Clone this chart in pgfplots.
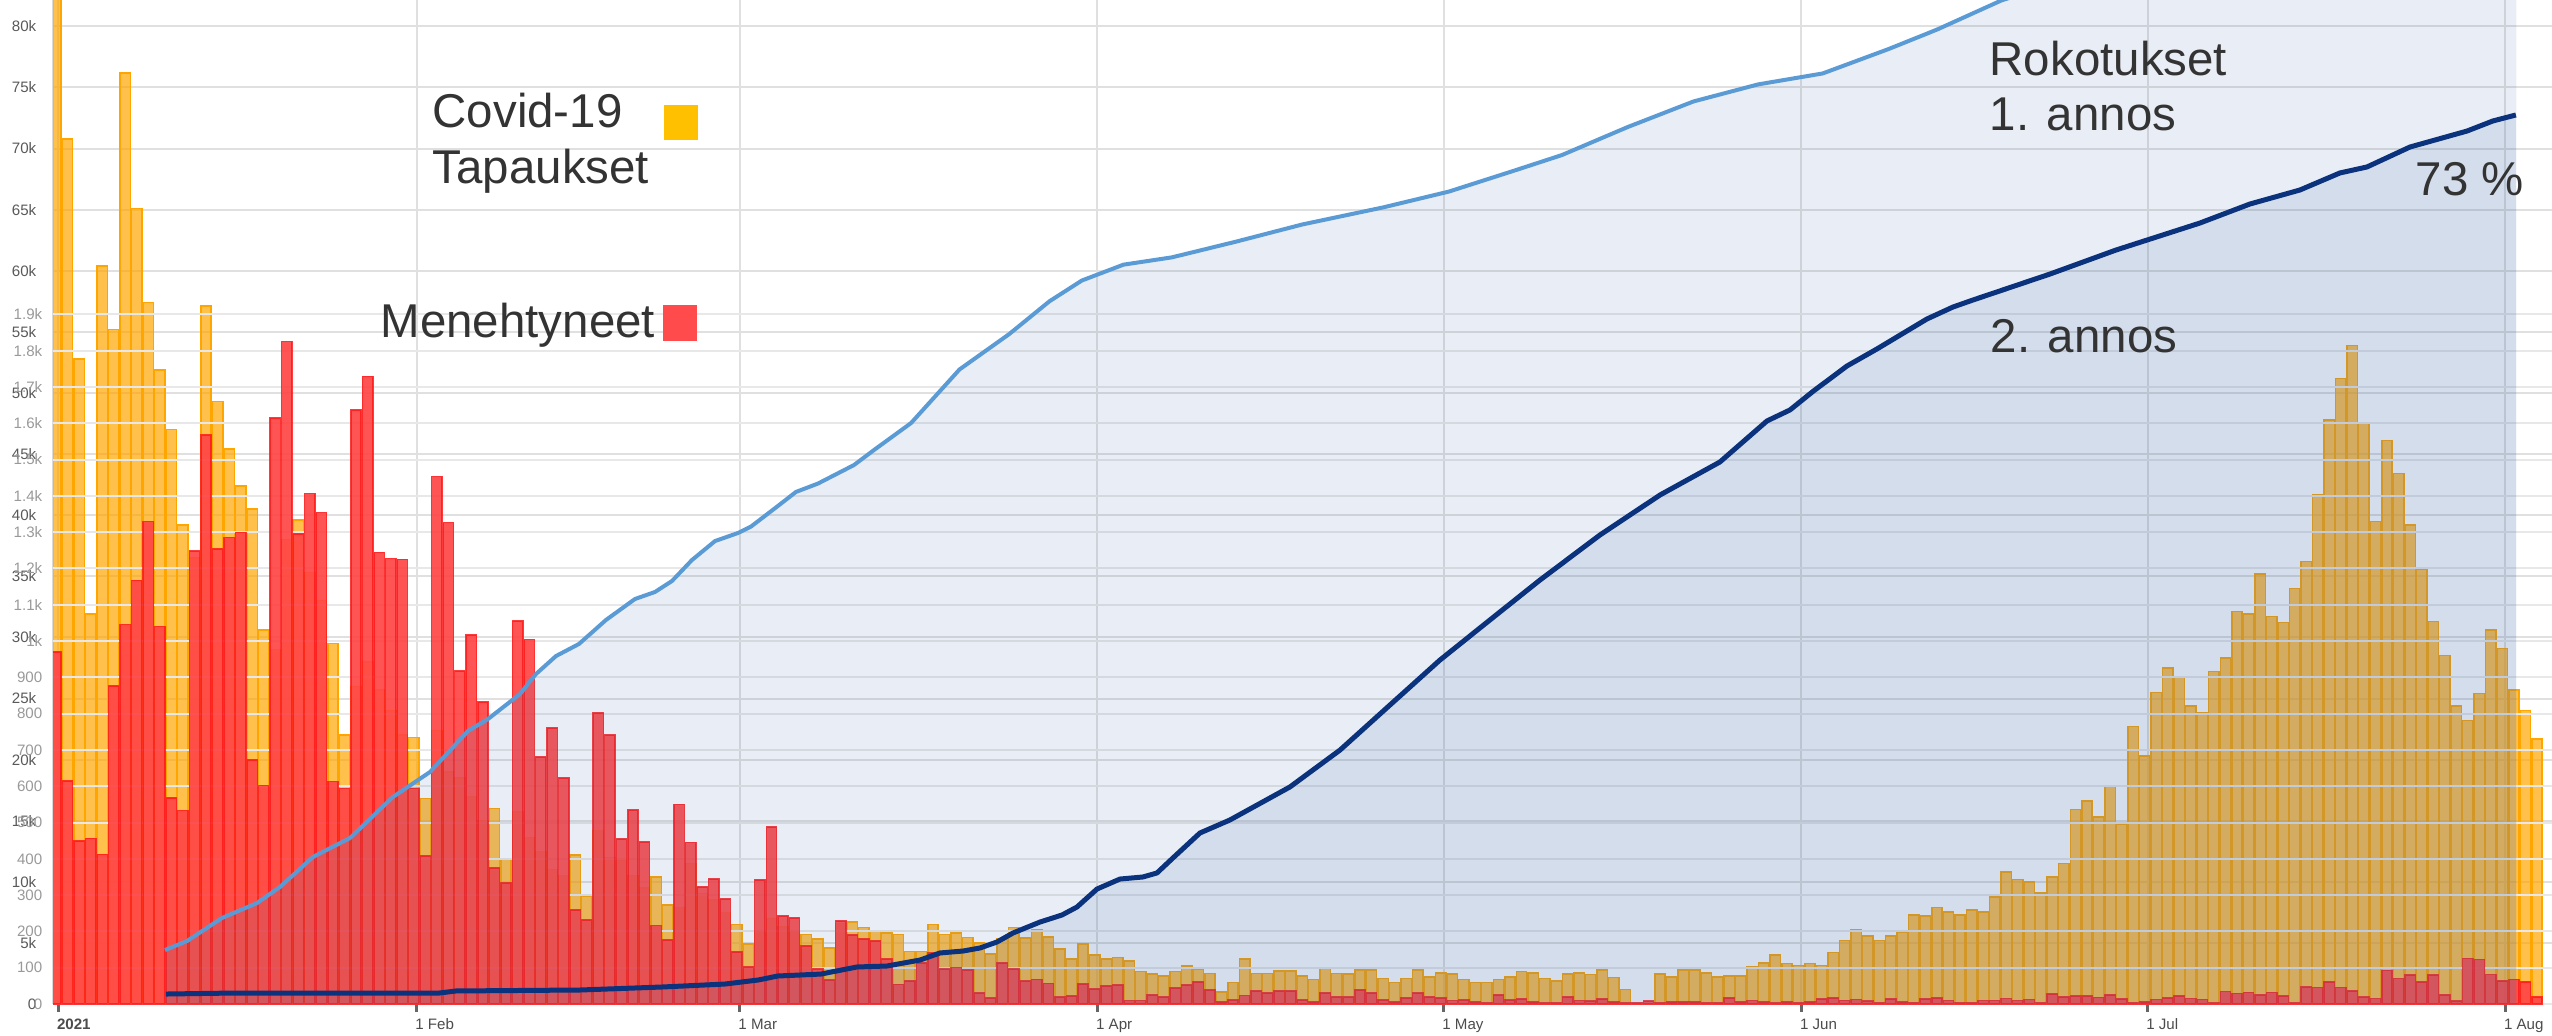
\documentclass[border=0pt]{standalone}
\usepackage{fontspec}
\setmainfont{Liberation Sans}
\usepackage{pgfplots}
\usepackage{pgfplotstable}
\pgfplotsset{compat=1.18}

\definecolor{caseC}{HTML}{FFA500}
\definecolor{deathC}{HTML}{FF4545}
\definecolor{deathE}{HTML}{FF1A1A}
\definecolor{vacc}{HTML}{466EAA}
\definecolor{doseone}{HTML}{5B9BD5}
\definecolor{dosetwo}{HTML}{0A327D}
\definecolor{txt}{HTML}{333333}
\definecolor{keyorange}{HTML}{FFC000}
\definecolor{keyred}{HTML}{FF4B4B}

% day index (0 = 1 Jan 2021), cases (thousands), deaths
\pgfplotstableread{
d c m
0 85 970
1 70.8 614
2 52.8 449
3 31.9 456
4 60.4 412
5 55.2 876
6 76.2 1045
7 65.1 1167
8 57.4 1329
9 51.9 1040
10 47.0 567
11 39.2 533
12 36.5 1248
13 57.1 1567
14 49.3 1253
15 45.4 1285
16 42.4 1299
17 40.5 672
18 30.6 602
19 29.0 1614
20 38 1825
21 39.6 1295
22 35.3 1406
23 33 1354
24 29.5 613
25 22.0 594
26 26 1636
27 28 1729
28 25.7 1244
29 24 1227
30 22 1225
31 21.8 594
32 16.8 408
33 22.4 1453
34 19 1326
35 18.5 917
36 17 1017
37 15 832
38 16.0 375
39 11.9 333
40 15.7 1055
41 13.6 1004
42 12.5 680
43 11 760
44 10.5 622
45 12.2 259
46 8.8 231
47 14.2 802
48 12 741
49 11.8 455
50 10.5 534
51 9.5 446
52 10.4 216
53 8.1 176
54 7.9 550
55 11.5 445
56 9.0 323
57 8.5 344
58 7.5 289
59 6.5 143
60 4.9 102
61 6.0 342
62 7.0 488
63 6.3 242
64 6.0 237
65 5.7 160
66 5.3 97
67 4.6 66
68 6.6 229
69 6.7 190
70 6.25 179
71 6.0 173
72 5.8 124
73 5.7 54
74 4.3 63
75 4.3 113
76 6.5 140
77 5.7 96
78 5.8 100
79 5.45 94
80 5.0 31
81 4.1 16
82 5.3 113
83 6.25 96
84 5.4 63
85 6.05 68
86 5.5 57
87 4.5 19
88 3.7 22
89 4.9 55
90 4.0 41
91 3.7 50
92 3.8 52
93 3.5 9
94 2.65 9
95 2.45 25
96 2.3 20
97 2.65 44
98 3.1 52
99 2.85 60
100 2.5 39
101 1.0 6
102 1.75 11
103 3.7 23
104 2.5 36
105 2.5 30
106 2.7 36
107 2.7 36
108 2.3 11
109 2.0 6
110 3.0 31
111 2.5 20
112 2.45 19
113 2.8 39
114 2.8 31
115 2.1 11
116 1.75 6
117 2.1 16
118 2.8 30
119 2.2 20
120 2.55 16
121 2.45 9
122 2.0 11
123 1.75 6
124 1.75 3
125 2.0 25
126 2.2 11
127 2.65 14
128 2.55 6
129 2.1 3
130 1.9 3
131 2.45 20
132 2.55 9
133 2.4 8
134 2.8 14
135 2.15 6
136 1.2 3
137 0 3
138 0 8
139 2.45 3
140 2.2 6
141 2.8 6
142 2.8 6
143 2.55 3
144 2.2 3
145 2.3 16
146 2.3 6
147 3.05 9
148 3.35 6
149 4.0 3
150 3.3 6
151 3.15 3
152 3.3 6
153 3.15 14
154 4.2 17
155 5.2 10
156 6.1 12
157 5.55 8
158 5.2 3
159 5.55 14
160 5.9 5
161 7.3 4
162 7.2 14
163 7.9 16
164 7.55 9
165 7.3 3
166 7.7 3
167 7.55 9
168 8.75 10
169 10.8 15
170 10.2 9
171 10.0 12
172 9.1 3
173 10.4 27
174 11.5 20
175 15.9 22
176 16.6 22
177 15.3 18
178 17.8 25
179 14.7 14
180 22.7 3
181 20.3 5
182 25.5 12
183 27.5 16
184 26.7 22
185 24.4 15
186 23.8 12
187 27.2 3
188 28.3 34
189 32.1 29
190 31.9 32
191 35.2 25
192 31.7 32
193 31.2 22
194 34.0 3
195 36.2 47
196 41.7 45
197 47.8 60
198 51.2 45
199 53.9 36
200 47.5 19
201 39.5 15
202 46.1 93
203 43.4 70
204 39.2 80
205 35.6 60
206 31.3 80
207 28.5 25
208 24.4 8
209 23.2 126
210 25.4 122
211 30.6 81
212 29.1 64
213 25.7 68
214 24.0 61
215 21.7 19
}\daily

% first dose, percent
\pgfplotstableread{
d v
9.45 4.43
11.35 5.17
14.38 7.06
17.42 8.29
19.41 9.61
22.27 12.07
25.48 13.63
29.2 17.0
32.41 19.05
35.7 22.41
37.44 23.4
40.21 25.45
41.59 27.09
43.33 28.57
45.32 29.56
47.66 31.53
50.17 33.25
51.91 33.83
53.38 34.73
55.11 36.45
57.11 38.01
59.1 38.67
60.23 39.2
62.56 40.89
64.12 42.04
66.03 42.73
69.15 44.25
70.88 45.48
74.1 47.7
78.3 52.1
82.6 55.0
86.1 57.7
88.9 59.4
92.5 60.7
96.7 61.3
102.3 62.6
108.0 64.0
115.0 65.4
120.7 66.7
126.3 68.4
130.5 69.7
136.2 72.0
141.9 74.1
147.5 75.5
153.1 76.4
158.8 78.4
163.0 80.0
168.6 82.4
177.1 84.9
213.2 93
}\doseA

% second dose, percent
\pgfplotstableread{
d v
9.53 0.82
15.25 0.9
33.19 0.9
34.66 1.07
45.41 1.15
52.6 1.4
57.97 1.64
60.83 1.97
62.56 2.3
66.29 2.46
69.41 3.04
72.01 3.12
74.87 3.61
76.6 4.19
78.6 4.35
80.07 4.6
81.54 5.09
82.93 5.83
85.27 6.73
87.18 7.31
88.47 7.96
90.21 9.44
92.2 10.26
94.19 10.43
95.41 10.76
96.79 11.99
99.13 14.04
101.73 15.11
106.93 17.82
111.27 20.85
115.6 24.55
119.93 28.24
124.26 31.53
128.6 34.81
133.8 38.51
139.0 41.79
144.19 44.5
148.27 47.87
150.26 48.77
152.25 50.29
155.2 52.38
157.8 53.78
162.13 56.24
164.38 57.22
166.12 57.8
172.79 59.93
178.51 61.9
185.79 64.12
190.12 65.68
194.45 66.83
197.92 68.23
200.26 68.72
203.99 70.36
208.93 71.67
211.18 72.5
213.17 72.99
}\doseB

\pgfplotsset{
  frame/.style={
    scale only axis, width=249.9mm, height=100.4mm,
    at={(5.3mm,3.1mm)}, anchor=south west,
    xmin=-0.26, xmax=216.3, ymin=0,
  },
  tinytick/.style={ticklabel style={font=\fontsize{4.3}{5}\selectfont}},
}

\begin{document}
\begin{tikzpicture}
\path[use as bounding box] (0,0) rectangle (255.2mm,103.5mm);

% cases
\begin{axis}[frame, tinytick, ymax=82.16,
  axis x line*=bottom, axis y line*=left, axis line style={-},
  x axis line style={draw=black!65, line width=0.2mm},
  y axis line style={draw=black!15, line width=0.2mm},
  xtick={0.2,31.25,59.25,90.25,120.25,151.25,181.25,212.25},
  xticklabels={\textbf{2021},1 Feb,1 Mar,1 Apr,1 May,1 Jun,1 Jul,1 Aug},
  ytick={0,5,...,80},
  yticklabels={0,5k,10k,15k,20k,25k,30k,35k,40k,45k,50k,55k,60k,65k,70k,75k,80k},
  yticklabel style={text=black!65, anchor=east, inner sep=0pt, xshift=-0.8mm},
  xticklabel style={text=black!70, anchor=north west, inner sep=0pt, xshift=-0.2mm, yshift=-0.6mm},
  ytick style={draw=none},
  xtick style={draw=black!60, line width=0.25mm},
  tick align=outside, major tick length=0.8mm,
  xmajorgrids, ymajorgrids,
  major grid style={draw=black!12, line width=0.2mm},
]
\addplot[ybar, bar width=0.9, bar shift=0pt, fill=caseC, fill opacity=0.7,
  draw=caseC, line width=0.15mm] table[x=d, y=c]{\daily};
\end{axis}

% deaths
\begin{axis}[frame, tinytick, ymax=2766,
  axis x line=none, axis y line*=left, y axis line style={draw=none},
  xtick=\empty,
  ytick={0,100,...,1900},
  yticklabels={0,100,200,300,400,500,600,700,800,900,1k,1.1k,1.2k,1.3k,1.4k,1.5k,1.6k,1.7k,1.8k,1.9k},
  yticklabel style={text=black!40, anchor=east, inner sep=0pt, xshift=-1.0mm},
  ytick style={draw=none},
  ymajorgrids,
  major grid style={draw=black!9, line width=0.2mm},
]
\addplot[ybar, bar width=0.9, bar shift=0pt, fill=deathC, fill opacity=0.92,
  draw=deathE, draw opacity=0.85, line width=0.15mm] table[x=d, y=m]{\daily};
\end{axis}

% vaccinations
\begin{axis}[frame, ymax=82.43, hide axis]
\addplot[draw=none, fill=vacc, fill opacity=0.12] table[x=d, y=v]{\doseA} \closedcycle;
\addplot[draw=none, fill=vacc, fill opacity=0.13] table[x=d, y=v]{\doseB} \closedcycle;
\addplot[draw=doseone, line width=0.4mm, line join=round] table[x=d, y=v]{\doseA};
\addplot[draw=dosetwo, line width=0.5mm, line join=round] table[x=d, y=v]{\doseB};
\end{axis}

\begin{scope}[every node/.style={anchor=base west, inner sep=0pt, text=txt,
    font=\fontsize{13.5}{16}\selectfont}]
\node at (43.2mm,90.8mm) {Covid-19};
\node at (43.2mm,85.2mm) {Tapaukset};
\node at (38.0mm,69.8mm) {Menehtyneet};
\node at (198.9mm,96.0mm) {Rokotukset};
\node at (198.9mm,90.5mm) {1. annos};
\node at (199.0mm,68.3mm) {2. annos};
\node at (241.5mm,84.0mm) {73~\%};
\end{scope}
\fill[keyorange] (66.4mm,93.0mm) rectangle (69.8mm,89.5mm);
\fill[keyred] (66.3mm,73.0mm) rectangle (69.7mm,69.4mm);
\end{tikzpicture}
\end{document}
